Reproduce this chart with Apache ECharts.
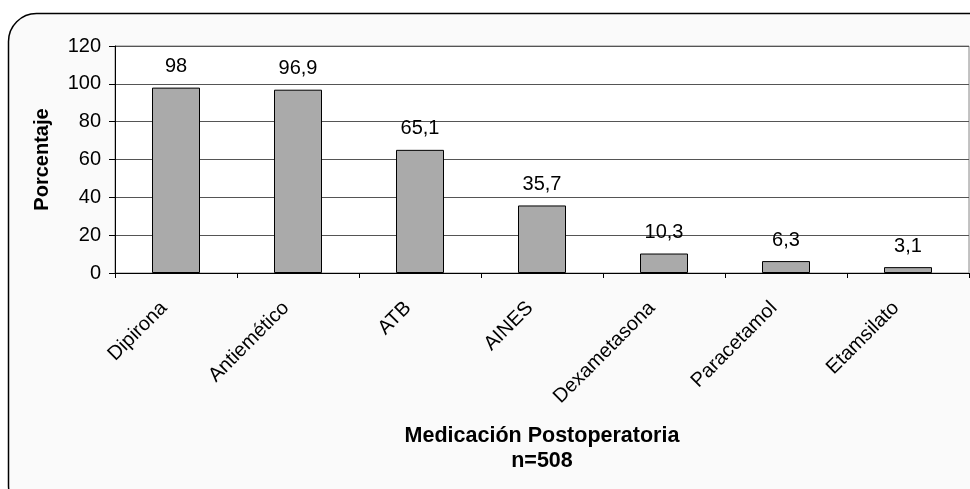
<!DOCTYPE html>
<html>
<head>
<meta charset="utf-8">
<script src="https://cdn.jsdelivr.net/npm/echarts@6/dist/echarts.min.js"></script>
<style>
html,body{margin:0;padding:0;background:#ffffff;}
#chart{width:970px;height:489px;}
</style>
</head>
<body>
<div id="chart"></div>
<script>
var categories = ['Dipirona', 'Antiemético', 'ATB', 'AINES', 'Dexametasona', 'Paracetamol', 'Etamsilato'];
var values = [98, 96.9, 65.1, 35.7, 10.3, 6.3, 3.1];
var yTicks = [0, 20, 40, 60, 80, 100, 120];
var yName = 'Porcentaje';
var xName = 'Medicación Postoperatoria\nn=508';

var FONT = '"Liberation Sans", Arial, sans-serif';
var chart = echarts.init(document.getElementById('chart'), null, {renderer: 'canvas'});
chart.setOption({
  animation: false,
  backgroundColor: '#ffffff',
  graphic: [{
    type: 'rect', z: -10, silent: true,
    shape: {x: 8.5, y: 13.5, width: 990, height: 500, r: 28},
    style: {fill: '#fafafa', stroke: '#000000', lineWidth: 1.5}
  }],
  grid: {left: 115, right: 1, top: 46, bottom: 216, show: true, backgroundColor: '#ffffff', borderColor: '#888888', borderWidth: 1},
  xAxis: {
    type: 'category',
    data: categories,
    boundaryGap: true,
    name: xName,
    nameLocation: 'middle',
    nameGap: 151,
    nameTextStyle: {fontFamily: FONT, fontSize: 21.5, fontWeight: 'bold', color: '#000', lineHeight: 25},
    axisLine: {lineStyle: {color: '#000', width: 1}},
    axisTick: {show: true, length: 5, lineStyle: {color: '#000'}},
    axisLabel: {rotate: 45, margin: 20, padding: [0, 17, 0, 0], fontFamily: FONT, fontSize: 20, color: '#000', interval: 0}
  },
  yAxis: {
    type: 'value',
    min: yTicks[0],
    max: yTicks[yTicks.length - 1],
    interval: 20,
    name: yName,
    nameLocation: 'middle',
    nameGap: 63,
    nameTextStyle: {fontFamily: FONT, fontSize: 20, fontWeight: 'bold', color: '#000'},
    axisLine: {show: true, lineStyle: {color: '#000', width: 1}},
    axisTick: {show: true, length: 6, lineStyle: {color: '#000'}},
    axisLabel: {margin: 14, fontFamily: FONT, fontSize: 20, color: '#000'},
    splitLine: {show: true, lineStyle: {color: '#555555', width: 1}}
  },
  series: [{
    type: 'bar',
    data: values,
    barWidth: 48,
    itemStyle: {color: '#aaaaaa', borderColor: '#000000', borderWidth: 1},
    label: {
      show: true, position: 'top', distance: 11,
      fontFamily: FONT, fontSize: 20, color: '#000',
      formatter: function (p) { return String(p.value).replace('.', ','); }
    }
  }]
});
</script>
</body>
</html>
